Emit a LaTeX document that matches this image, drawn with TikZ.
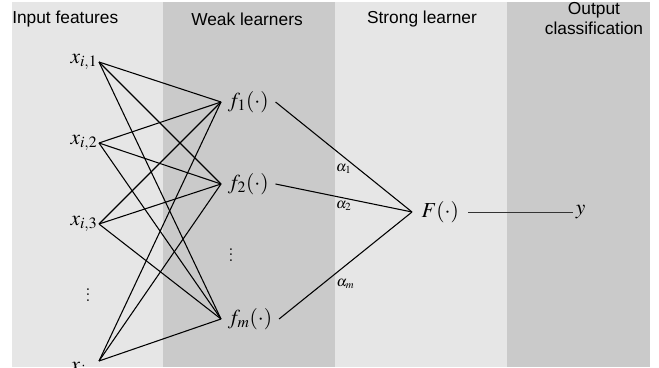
\documentclass[tikz,border=0pt]{standalone}
\usepackage{mathptmx}
\usepackage[no-math]{fontspec}
\setsansfont{Liberation Sans}
\usepackage{xcolor}
\usepackage{tikz}
\usetikzlibrary{positioning}
\definecolor{paneLight}{HTML}{E6E6E6}
\definecolor{paneDark}{HTML}{CACACA}

\begin{document}
\begin{tikzpicture}[x=0.75pt,y=-0.75pt,
  header/.style={font=\sffamily\fontsize{13}{15}\selectfont, align=center, inner sep=0pt},
  var/.style={font=\fontsize{16}{18}\selectfont, inner sep=1pt},
  weight/.style={font=\fontsize{11}{13}\selectfont, inner sep=1pt},
  link/.style={line width=0.8pt}]
  \useasboundingbox (0,0) rectangle (659,367);

  % background panes
  \fill[paneLight] (12,2) rectangle (163,367);
  \fill[paneDark] (163,2) rectangle (335,367);
  \fill[paneLight] (335,2) rectangle (507,367);
  \fill[paneDark] (507,2) rectangle (650,367);

  % column headers
  \node[header, anchor=west] (hin) at (12,19) {Input features};
  \node[header] (hweak) at (247,19) {Weak learners};
  \node[header] (hstrong) at (422,19) {Strong learner};
  \node[header] (hout) at (594,19) {Output\\classification};

  % input features
  \node[var, anchor=east] (x1) at (99,62) {$x_{i,1}$};
  \node[var, anchor=east] (x2) at (99,143) {$x_{i,2}$};
  \node[var, anchor=east] (x3) at (99,224) {$x_{i,3}$};
  \node[var] (xdots) at (88,291) {$\vdots$};
  \node[var, anchor=north east] (xn) at (99,361) {$x_{i,n}$};

  % weak learners
  \node[var, anchor=west, inner xsep=5pt] (f1) at (221,102) {$f_1(\cdot)$};
  \node[var, anchor=west, inner xsep=5pt] (f2) at (221,184) {$f_2(\cdot)$};
  \node[var] (fdots) at (231,251) {$\vdots$};
  \node[var, anchor=west, inner xsep=5pt] (fm) at (221,319) {$f_m(\cdot)$};

  % strong learner and output
  \node[var, anchor=west, inner xsep=7pt] (F) at (412,212) {$F(\cdot)$};
  \node[var, anchor=west, inner xsep=2pt] (y) at (573,212) {$y$};

  \foreach \i/\a in {x1/east,x2/east,x3/east,xn/north east}
    \foreach \j in {f1,f2,fm}
      \draw[link] (\i.\a) -- (\j.west);

  \draw[link] (f1.east) -- node[weight, pos=0.5, below=4pt] (a1) {$\alpha_1$} (F.west);
  \draw[link] (f2.east) -- node[weight, pos=0.5, below=1pt] (a2) {$\alpha_2$} (F.west);
  \draw[link] (fm.east) -- node[weight, pos=0.5, below=9pt] (am) {$\alpha_m$} (F.west);
  \draw[line width=0.6pt, black!80] (F.east) -- (y.west);
\end{tikzpicture}
\end{document}
